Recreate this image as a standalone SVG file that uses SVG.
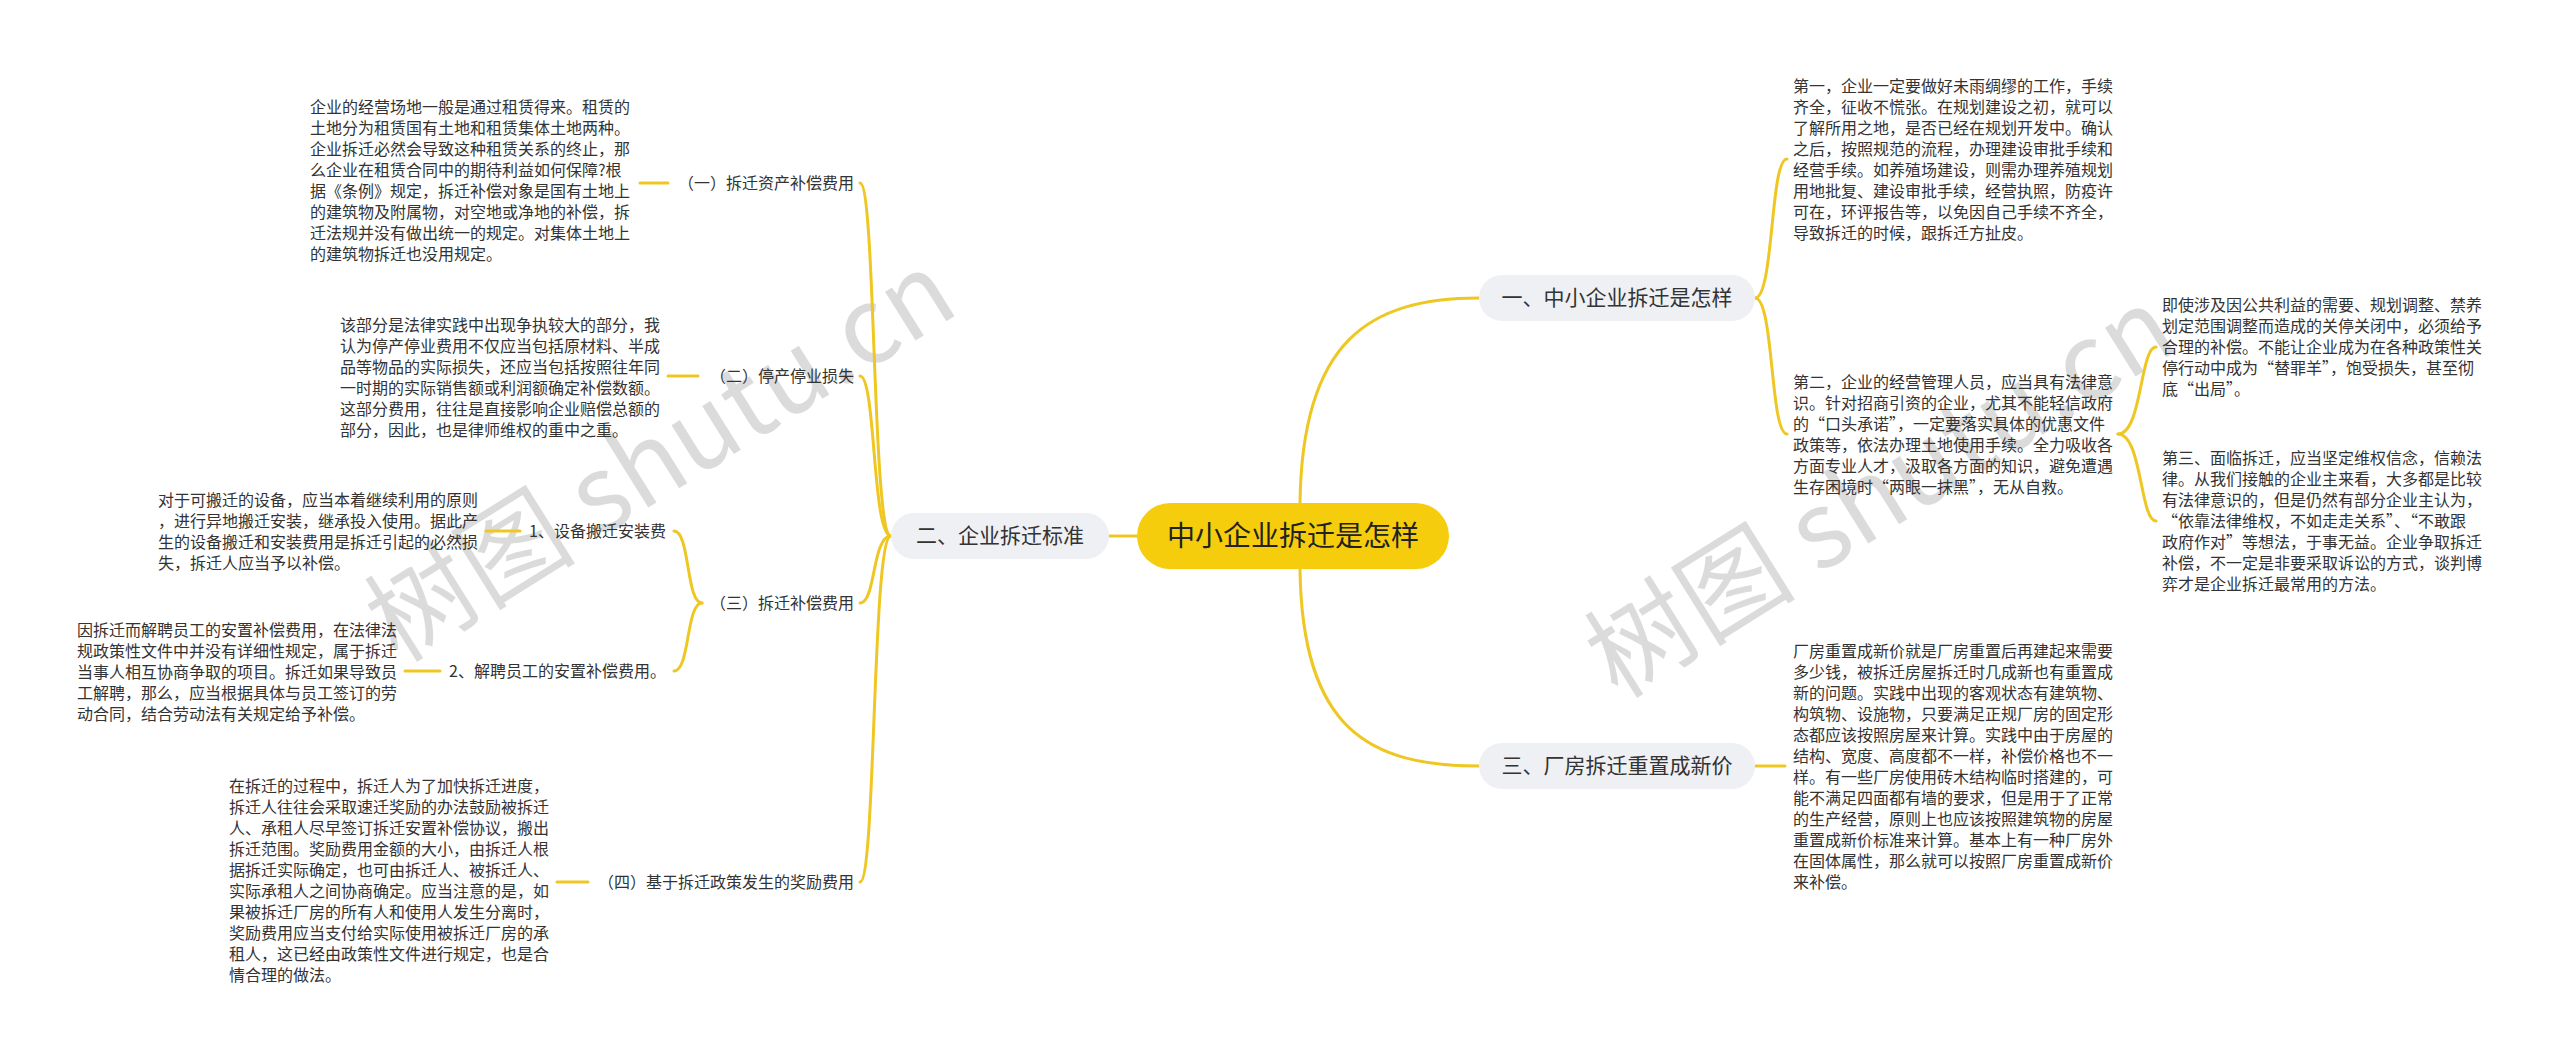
<svg xmlns="http://www.w3.org/2000/svg" width="2560" height="1062" viewBox="0 0 2560 1062">
<style>
.t{font-family:"Noto Sans CJK SC","Noto Sans",sans-serif;font-size:16px;fill:#333}
.lb{font-family:"Noto Sans CJK SC","Noto Sans",sans-serif;font-size:16px;fill:#333}
.br{font-family:"Noto Sans CJK SC","Noto Sans",sans-serif;font-size:21px;fill:#333}
.rt{font-family:"Noto Sans CJK SC","Noto Sans",sans-serif;font-size:28px;fill:#222}
.pill{fill:#eef0f4}
.root{fill:#f6cd0d}
.c{fill:none;stroke:#efc723;stroke-width:3;stroke-linecap:round}
.wm{font-family:"Noto Sans CJK SC","Noto Sans",sans-serif;font-size:106px;fill:#000;fill-opacity:0.14}
</style>
<rect width="2560" height="1062" fill="#fff"/>
<g id="watermarks">
<text class="wm" transform="translate(398,664) rotate(-32)">树图 shutu.cn</text>
<text class="wm" transform="translate(1618,700) rotate(-32)">树图 shutu.cn</text>
</g>
<g id="connectors">
<path class="c" d="M1300,503 C1302,340 1370,298 1479,298"/>
<path class="c" d="M1300,569 C1302,730 1370,766 1479,766"/>
<path class="c" d="M1137,536 H1109"/>
<path class="c" d="M891,536 C872,536 876,183 860,183"/>
<path class="c" d="M891,536 C872,536 876,376 860,376"/>
<path class="c" d="M891,536 C872,536 876,603 860,603"/>
<path class="c" d="M891,536 C872,536 876,882 860,882"/>
<path class="c" d="M702,603 C686,603 690,531 674,531"/>
<path class="c" d="M702,603 C686,603 690,671 674,671"/>
<path class="c" d="M640,183 H668"/>
<path class="c" d="M668,376 H698"/>
<path class="c" d="M486,531 H520"/>
<path class="c" d="M405,671 H440"/>
<path class="c" d="M557,882 H588"/>
<path class="c" d="M1755,298 C1774,298 1770,159 1787,159"/>
<path class="c" d="M1755,298 C1774,298 1770,434 1787,434"/>
<path class="c" d="M1755,766 H1785"/>
<path class="c" d="M2118,434 C2142,434 2140,347 2156,347"/>
<path class="c" d="M2118,434 C2142,434 2140,521 2156,521"/>
</g>
<g id="root">
<rect class="root" x="1137" y="503" width="312" height="66" rx="33"/>
<text class="rt" x="1293" y="546" text-anchor="middle">中小企业拆迁是怎样</text>
</g>
<g id="b1">
<rect class="pill" x="1479" y="275" width="276" height="46" rx="23"/>
<text class="br" x="1617" y="305" text-anchor="middle">一、中小企业拆迁是怎样</text>
</g>
<g id="b2">
<rect class="pill" x="891" y="513" width="218" height="46" rx="23"/>
<text class="br" x="1000" y="543" text-anchor="middle">二、企业拆迁标准</text>
</g>
<g id="b3">
<rect class="pill" x="1479" y="743" width="276" height="46" rx="23"/>
<text class="br" x="1617" y="773" text-anchor="middle">三、厂房拆迁重置成新价</text>
</g>
<g id="l1"><text class="lb" x="854" y="189" text-anchor="end">（一）拆迁资产补偿费用</text></g>
<g id="l2"><text class="lb" x="854" y="382" text-anchor="end">（二）停产停业损失</text></g>
<g id="l3"><text class="lb" x="854" y="609" text-anchor="end">（三）拆迁补偿费用</text></g>
<g id="l4"><text class="lb" x="854" y="888" text-anchor="end">（四）基于拆迁政策发生的奖励费用</text></g>
<g id="l3a"><text class="lb" x="666" y="537" text-anchor="end">1、设备搬迁安装费</text></g>
<g id="l3b"><text class="lb" x="666" y="677" text-anchor="end">2、解聘员工的安置补偿费用。</text></g>
<g id="t1"><text class="t">
<tspan x="310" y="112.5">企业的经营场地一般是通过租赁得来。租赁的</tspan>
<tspan x="310" y="133.5">土地分为租赁国有土地和租赁集体土地两种。</tspan>
<tspan x="310" y="154.5">企业拆迁必然会导致这种租赁关系的终止，那</tspan>
<tspan x="310" y="175.5">么企业在租赁合同中的期待利益如何保障?根</tspan>
<tspan x="310" y="196.5">据《条例》规定，拆迁补偿对象是国有土地上</tspan>
<tspan x="310" y="217.5">的建筑物及附属物，对空地或净地的补偿，拆</tspan>
<tspan x="310" y="238.5">迁法规并没有做出统一的规定。对集体土地上</tspan>
<tspan x="310" y="259.5">的建筑物拆迁也没用规定。</tspan>
</text></g>
<g id="t2"><text class="t">
<tspan x="340" y="330.5">该部分是法律实践中出现争执较大的部分，我</tspan>
<tspan x="340" y="351.5">认为停产停业费用不仅应当包括原材料、半成</tspan>
<tspan x="340" y="372.5">品等物品的实际损失，还应当包括按照往年同</tspan>
<tspan x="340" y="393.5">一时期的实际销售额或利润额确定补偿数额。</tspan>
<tspan x="340" y="414.5">这部分费用，往往是直接影响企业赔偿总额的</tspan>
<tspan x="340" y="435.5">部分，因此，也是律师维权的重中之重。</tspan>
</text></g>
<g id="t3a"><text class="t">
<tspan x="158" y="505.5">对于可搬迁的设备，应当本着继续利用的原则</tspan>
<tspan x="158" y="526.5">，进行异地搬迁安装，继承投入使用。据此产</tspan>
<tspan x="158" y="547.5">生的设备搬迁和安装费用是拆迁引起的必然损</tspan>
<tspan x="158" y="568.5">失，拆迁人应当予以补偿。</tspan>
</text></g>
<g id="t3b"><text class="t">
<tspan x="77" y="636">因拆迁而解聘员工的安置补偿费用，在法律法</tspan>
<tspan x="77" y="657">规政策性文件中并没有详细性规定，属于拆迁</tspan>
<tspan x="77" y="678">当事人相互协商争取的项目。拆迁如果导致员</tspan>
<tspan x="77" y="699">工解聘，那么，应当根据具体与员工签订的劳</tspan>
<tspan x="77" y="720">动合同，结合劳动法有关规定给予补偿。</tspan>
</text></g>
<g id="t4"><text class="t">
<tspan x="229" y="791.5">在拆迁的过程中，拆迁人为了加快拆迁进度，</tspan>
<tspan x="229" y="812.5">拆迁人往往会采取速迁奖励的办法鼓励被拆迁</tspan>
<tspan x="229" y="833.5">人、承租人尽早签订拆迁安置补偿协议，搬出</tspan>
<tspan x="229" y="854.5">拆迁范围。奖励费用金额的大小，由拆迁人根</tspan>
<tspan x="229" y="875.5">据拆迁实际确定，也可由拆迁人、被拆迁人、</tspan>
<tspan x="229" y="896.5">实际承租人之间协商确定。应当注意的是，如</tspan>
<tspan x="229" y="917.5">果被拆迁厂房的所有人和使用人发生分离时，</tspan>
<tspan x="229" y="938.5">奖励费用应当支付给实际使用被拆迁厂房的承</tspan>
<tspan x="229" y="959.5">租人，这已经由政策性文件进行规定，也是合</tspan>
<tspan x="229" y="980.5">情合理的做法。</tspan>
</text></g>
<g id="r1"><text class="t">
<tspan x="1793" y="91.5">第一，企业一定要做好未雨绸缪的工作，手续</tspan>
<tspan x="1793" y="112.5">齐全，征收不慌张。在规划建设之初，就可以</tspan>
<tspan x="1793" y="133.5">了解所用之地，是否已经在规划开发中。确认</tspan>
<tspan x="1793" y="154.5">之后，按照规范的流程，办理建设审批手续和</tspan>
<tspan x="1793" y="175.5">经营手续。如养殖场建设，则需办理养殖规划</tspan>
<tspan x="1793" y="196.5">用地批复、建设审批手续，经营执照，防疫许</tspan>
<tspan x="1793" y="217.5">可在，环评报告等，以免因自己手续不齐全，</tspan>
<tspan x="1793" y="238.5">导致拆迁的时候，跟拆迁方扯皮。</tspan>
</text></g>
<g id="r2"><text class="t">
<tspan x="1793" y="387.5">第二，企业的经营管理人员，应当具有法律意</tspan>
<tspan x="1793" y="408.5">识。针对招商引资的企业，尤其不能轻信政府</tspan>
<tspan x="1793" y="429.5">的“口头承诺”，一定要落实具体的优惠文件</tspan>
<tspan x="1793" y="450.5">政策等，依法办理土地使用手续。全力吸收各</tspan>
<tspan x="1793" y="471.5">方面专业人才，汲取各方面的知识，避免遭遇</tspan>
<tspan x="1793" y="492.5">生存困境时“两眼一抹黑”，无从自救。</tspan>
</text></g>
<g id="r2a"><text class="t">
<tspan x="2162" y="311">即使涉及因公共利益的需要、规划调整、禁养</tspan>
<tspan x="2162" y="332">划定范围调整而造成的关停关闭中，必须给予</tspan>
<tspan x="2162" y="353">合理的补偿。不能让企业成为在各种政策性关</tspan>
<tspan x="2162" y="374">停行动中成为“替罪羊”，饱受损失，甚至彻</tspan>
<tspan x="2162" y="395">底“出局”。</tspan>
</text></g>
<g id="r2b"><text class="t">
<tspan x="2162" y="464">第三、面临拆迁，应当坚定维权信念，信赖法</tspan>
<tspan x="2162" y="485">律。从我们接触的企业主来看，大多都是比较</tspan>
<tspan x="2162" y="506">有法律意识的，但是仍然有部分企业主认为，</tspan>
<tspan x="2162" y="527">“依靠法律维权，不如走走关系”、“不敢跟</tspan>
<tspan x="2162" y="548">政府作对”等想法，于事无益。企业争取拆迁</tspan>
<tspan x="2162" y="569">补偿，不一定是非要采取诉讼的方式，谈判博</tspan>
<tspan x="2162" y="590">弈才是企业拆迁最常用的方法。</tspan>
</text></g>
<g id="r3"><text class="t">
<tspan x="1793" y="656.5">厂房重置成新价就是厂房重置后再建起来需要</tspan>
<tspan x="1793" y="677.5">多少钱，被拆迁房屋拆迁时几成新也有重置成</tspan>
<tspan x="1793" y="698.5">新的问题。实践中出现的客观状态有建筑物、</tspan>
<tspan x="1793" y="719.5">构筑物、设施物，只要满足正规厂房的固定形</tspan>
<tspan x="1793" y="740.5">态都应该按照房屋来计算。实践中由于房屋的</tspan>
<tspan x="1793" y="761.5">结构、宽度、高度都不一样，补偿价格也不一</tspan>
<tspan x="1793" y="782.5">样。有一些厂房使用砖木结构临时搭建的，可</tspan>
<tspan x="1793" y="803.5">能不满足四面都有墙的要求，但是用于了正常</tspan>
<tspan x="1793" y="824.5">的生产经营，原则上也应该按照建筑物的房屋</tspan>
<tspan x="1793" y="845.5">重置成新价标准来计算。基本上有一种厂房外</tspan>
<tspan x="1793" y="866.5">在固体属性，那么就可以按照厂房重置成新价</tspan>
<tspan x="1793" y="887.5">来补偿。</tspan>
</text></g>
</svg>
